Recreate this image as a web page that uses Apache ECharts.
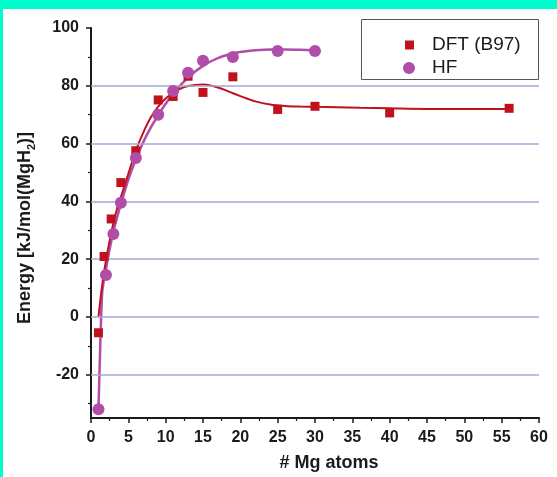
<!DOCTYPE html>
<html>
<head>
<meta charset="utf-8">
<script src="https://cdn.jsdelivr.net/npm/echarts@6/dist/echarts.min.js"></script>
<style>
  html, body { margin: 0; padding: 0; width: 557px; height: 477px; background: #00fdd0; overflow: hidden; }
  #chart { position: absolute; left: 3px; top: 9px; width: 554px; height: 468px; background: #ffffff; }
</style>
</head>
<body>
<div id="chart"></div>
<script>
// Binding energy per MgH2 unit versus Mg cluster size
const dftName = 'DFT (B97)';
const hfName = 'HF';

// Computed points
const dftX = [1, 1.75, 2.7, 4, 6, 9, 11, 13, 15, 19, 25, 30, 40, 56];
const dftY = [-5.5, 20.9, 33.9, 46.5, 57.5, 75.1, 76.3, 83.3, 77.7, 83.1, 71.8, 72.9, 70.6, 72.2];
const hfX = [1, 2, 3, 4, 6, 9, 11, 13, 15, 19, 25, 30];
const hfY = [-32, 14.5, 28.7, 39.5, 55, 70, 78.2, 84.5, 88.7, 90, 92, 92];

// Fitted curves
const dftFitX = [1, 1.5, 2, 2.5, 3, 3.5, 4, 5, 6, 7, 8, 9, 10, 11, 12, 13, 14, 15, 16, 17, 18, 19, 20, 22, 24, 26, 28, 30, 33, 36, 40, 45, 50, 56];
const dftFitY = [0, 11, 19.5, 26.5, 32.5, 37.5, 41.5, 49.5, 57.5, 63.8, 69, 72.8, 75.6, 77.6, 79, 79.9, 80.3, 80.4, 80.1, 79.4, 78.5, 77.4, 76.4, 74.6, 73.5, 73, 72.8, 72.7, 72.6, 72.4, 72.2, 72.0, 72.0, 72.0];
const hfFitX = [1, 1.25, 1.5, 1.75, 2, 2.5, 3, 3.5, 4, 5, 6, 7, 8, 9, 10, 11, 12, 13, 14, 15, 16, 17, 18, 19, 20, 22, 24, 26, 28, 30];
const hfFitY = [-32, -9, 8.5, 13, 16.5, 23.5, 29.5, 34.5, 39, 47.5, 54.5, 60.5, 65.5, 69.8, 73.8, 77.2, 80.2, 82.8, 85, 86.9, 88.4, 89.6, 90.5, 91.2, 91.7, 92.3, 92.6, 92.6, 92.5, 92.3];

// Axis ticks
const yLabelValues = [-20, 0, 20, 40, 60, 80, 100];
const yMinorValues = [-30, -10, 10, 30, 50, 70, 90];
const gridValues = [-20, 0, 20, 40, 60, 80];

const pairs = (xs, ys) => xs.map((x, i) => [x, ys[i]]);

const red = '#c0121c';
const purple = '#b24ca9';
const ink = '#1a1a1a';
const font = '"Liberation Sans", Arial, sans-serif';

const chart = echarts.init(document.getElementById('chart'), null, { renderer: 'canvas' });

chart.setOption({
  animation: false,
  backgroundColor: '#ffffff',
  textStyle: { fontFamily: font },
  grid: { left: 88, top: 19, right: 18, bottom: 53, containLabel: false },
  xAxis: {
    type: 'value', min: 0, max: 60, interval: 5,
    name: '# Mg atoms', nameLocation: 'middle', nameGap: 36,
    nameTextStyle: { fontSize: 18, fontWeight: 'bold', color: ink, fontFamily: font, padding: [0, 0, 0, 28] },
    axisLine: { show: true, onZero: false, lineStyle: { color: ink, width: 2 } },
    axisTick: { show: true, inside: false, length: 5, lineStyle: { color: ink, width: 1.5 } },
    minorTick: { show: true, splitNumber: 2, length: 3, lineStyle: { color: ink, width: 1.2 } },
    axisLabel: { fontSize: 16, fontWeight: 'bold', color: ink, margin: 12, fontFamily: font },
    splitLine: { show: false }
  },
  yAxis: [
    {
      type: 'value', min: -35, max: 100, position: 'left',
      name: '{a|Energy [kJ/mol(MgH}{s|2}{a|)]}', nameLocation: 'middle', nameGap: 54,
      nameTextStyle: {
        color: ink, fontFamily: font, padding: [0, 10, 0, 0],
        rich: {
          a: { fontSize: 18, fontWeight: 'bold', color: ink, lineHeight: 24, verticalAlign: 'middle', fontFamily: font },
          s: { fontSize: 11, fontWeight: 'bold', color: ink, lineHeight: 24, verticalAlign: 'bottom', fontFamily: font }
        }
      },
      axisLine: { show: true, onZero: false, lineStyle: { color: ink, width: 2 } },
      axisTick: { show: true, inside: false, length: 5, customValues: yLabelValues, lineStyle: { color: ink, width: 1.5 } },
      axisLabel: { customValues: yLabelValues, fontSize: 16, fontWeight: 'bold', color: ink, margin: 12, fontFamily: font },
      splitLine: { show: false }
    },
    {
      type: 'value', min: -35, max: 100, position: 'left',
      axisLine: { show: false },
      axisTick: { show: true, inside: false, length: 3, customValues: yMinorValues, lineStyle: { color: ink, width: 1.2 } },
      axisLabel: { show: false },
      splitLine: { show: false }
    }
  ],
  legend: [
    {
      data: [{ name: dftName, icon: 'rect' }],
      left: 397, top: 21, orient: 'vertical',
      itemWidth: 9, itemHeight: 9,
      textStyle: { fontSize: 19, color: ink, lineHeight: 20, padding: [0, 0, 0, 13], fontFamily: font }
    },
    {
      data: [{ name: hfName, icon: 'circle' }],
      left: 395, top: 44, orient: 'vertical',
      itemWidth: 12, itemHeight: 12,
      textStyle: { fontSize: 19, color: ink, lineHeight: 20, padding: [0, 0, 0, 12], fontFamily: font }
    }
  ],
  graphic: [
    {
      type: 'rect', z: 0, silent: true,
      shape: { x: 358.5, y: 10.5, width: 177, height: 60 },
      style: { fill: '#ffffff', stroke: '#555555', lineWidth: 1 }
    }
  ],
  series: [
    {
      name: 'grid', type: 'line', data: [], z: 1, silent: true,
      markLine: {
        silent: true, symbol: 'none', label: { show: false },
        lineStyle: { color: '#a3a9d9', width: 1.5, type: 'solid' },
        data: gridValues.map(v => ({ yAxis: v }))
      }
    },
    {
      name: 'HF fit', type: 'line', data: pairs(hfFitX, hfFitY), smooth: 0.3,
      showSymbol: false, silent: true, z: 3,
      lineStyle: { color: purple, width: 2.5 }
    },
    {
      name: 'DFT fit', type: 'line', data: pairs(dftFitX, dftFitY), smooth: 0.3,
      showSymbol: false, silent: true, z: 4,
      lineStyle: { color: red, width: 2 }
    },
    {
      name: dftName, type: 'scatter', data: pairs(dftX, dftY), z: 5,
      symbol: 'rect', symbolSize: 9,
      itemStyle: { color: red, opacity: 1 }
    },
    {
      name: hfName, type: 'scatter', data: pairs(hfX, hfY), z: 6,
      symbol: 'circle', symbolSize: 12,
      itemStyle: { color: purple, opacity: 1 }
    }
  ]
});
</script>
</body>
</html>
